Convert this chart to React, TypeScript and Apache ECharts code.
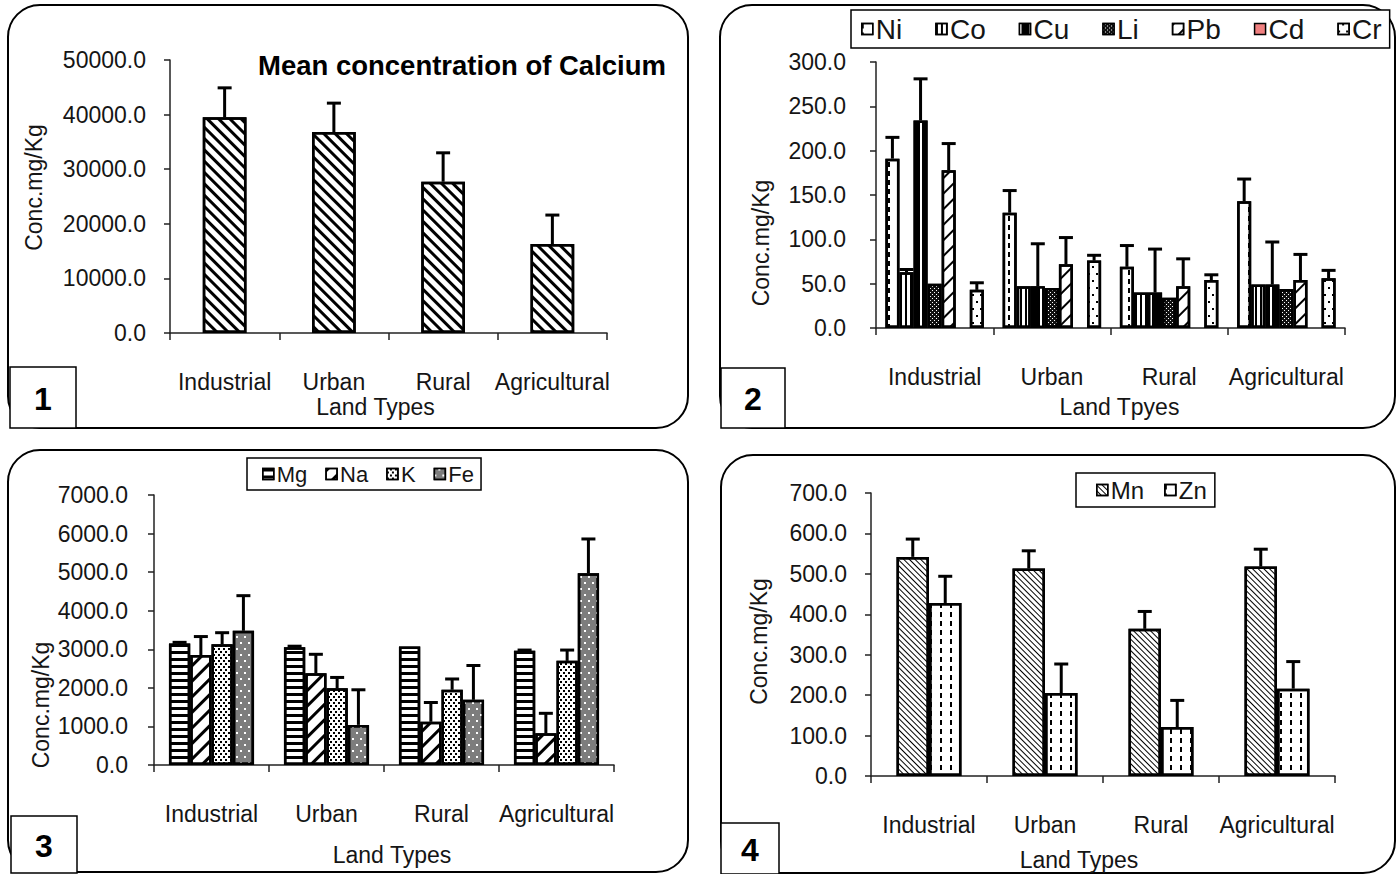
import React, { useEffect, useRef } from 'react';
import * as echarts from 'echarts';

const landTypes = ['Industrial', 'Urban', 'Rural', 'Agricultural'];

// Panel 1: Calcium (mean and mean + error)
const caMean = [39500, 36800, 27700, 16300];
const caUpper = [44900, 42100, 33000, 21600];

// Panel 2: trace metals
const traceNames = ['Ni', 'Co', 'Cu', 'Li', 'Pb', 'Cd', 'Cr'];
const niMean = [191, 130, 69, 143];
const niUpper = [215, 155, 93, 168];
const coMean = [63, 47, 40, 49];
const coUpper = [66, 47, 40, 49];
const cuMean = [234, 47, 40, 49];
const cuUpper = [281, 95, 89, 97];
const liMean = [50, 45, 34, 44];
const liUpper = [50, 45, 34, 44];
const pbMean = [178, 72, 47, 54];
const pbUpper = [208, 102, 78, 83];
const cdMean: (number | null)[] = [null, null, null, null];
const cdUpper: (number | null)[] = [null, null, null, null];
const crMean = [43, 76, 54, 56];
const crUpper = [51, 82, 60, 65];

// Panel 3: major elements
const majorNames = ['Mg', 'Na', 'K', 'Fe'];
const mgMean = [3150, 3050, 3070, 2960];
const mgUpper = [3180, 3080, 3070, 2980];
const naMean = [2850, 2380, 1120, 820];
const naUpper = [3330, 2870, 1620, 1340];
const kMean = [3130, 1990, 1950, 2700];
const kUpper = [3430, 2270, 2230, 2980];
const feMean = [3480, 1040, 1690, 4970];
const feUpper = [4390, 1950, 2580, 5860];

// Panel 4: Mn, Zn
const mnZnNames = ['Mn', 'Zn'];
const mnMean = [542, 513, 364, 518];
const mnUpper = [586, 557, 407, 561];
const znMean = [428, 205, 121, 216];
const znUpper = [494, 277, 187, 283];

const FONT = "'Liberation Sans', Arial, sans-serif";
const TXT = '#151515';
const PI4 = Math.PI / 4;

const deco = (o: any) => ({ symbol: 'rect', symbolSize: 1, color: '#000', ...o });

function barSeries(name: string, grid: number, data: (number | null)[], gap: string, color: string, decal: any) {
  return {
    type: 'bar',
    name,
    xAxisIndex: grid,
    yAxisIndex: grid,
    data,
    barGap: '0%',
    barCategoryGap: gap,
    itemStyle: { color, borderColor: '#000', borderWidth: 2.5, decal },
  };
}

function errSeries(grid: number, gap: number, means: (number | null)[][], uppers: (number | null)[][]) {
  const n = means.length;
  const data: number[][] = [];
  means.forEach((m, s) =>
    m.forEach((v, c) => {
      const u = uppers[s][c];
      if (v != null && u != null && u > v) data.push([c, s, v, u]);
    })
  );
  return {
    type: 'custom',
    xAxisIndex: grid,
    yAxisIndex: grid,
    z: 5,
    silent: true,
    encode: { x: 0, y: [2, 3] },
    data,
    renderItem: (params: any, api: any) => {
      const c = api.value(0);
      const s = api.value(1);
      const p0 = api.coord([c, api.value(2)]);
      const p1 = api.coord([c, api.value(3)]);
      const band = api.size([1, 0])[0];
      const gw = band * (1 - gap);
      const bw = gw / n;
      const x = p0[0] - gw / 2 + (s + 0.5) * bw;
      return {
        type: 'group',
        children: [
          { type: 'line', shape: { x1: x, y1: p0[1], x2: x, y2: p1[1] }, style: { stroke: '#000', lineWidth: 3 } },
          { type: 'line', shape: { x1: x - 7, y1: p1[1], x2: x + 7, y2: p1[1] }, style: { stroke: '#000', lineWidth: 3 } },
        ],
      };
    },
  };
}

function xAxis(grid: number, name: string, nameGap: number, namePad: number[]) {
  return {
    type: 'category',
    gridIndex: grid,
    data: landTypes,
    axisLine: { show: true, lineStyle: { color: '#222', width: 1.5 } },
    axisTick: { show: true, length: 7, interval: 0, lineStyle: { color: '#222', width: 1.5 } },
    axisLabel: { margin: 37, fontSize: 23, color: TXT, fontFamily: FONT, interval: 0 },
    name,
    nameLocation: 'middle',
    nameGap,
    nameTextStyle: { fontSize: 23, color: TXT, fontFamily: FONT, padding: namePad },
  };
}

function yAxis(grid: number, max: number, interval: number, margin: number, nameGap: number, namePad: number[]) {
  return {
    type: 'value',
    gridIndex: grid,
    min: 0,
    max,
    interval,
    axisLine: { show: true, lineStyle: { color: '#222', width: 1.5 } },
    axisTick: { show: true, length: 6, lineStyle: { color: '#222', width: 1.5 } },
    splitLine: { show: false },
    axisLabel: { margin, fontSize: 23, color: TXT, fontFamily: FONT, formatter: (v: number) => v.toFixed(1) },
    name: 'Conc.mg/Kg',
    nameLocation: 'middle',
    nameGap,
    nameTextStyle: { fontSize: 23, color: TXT, fontFamily: FONT, padding: namePad },
  };
}

function legend(data: string[], left: number, top: number, fontSize: number, itemGap: number, padding: number[]) {
  return {
    data,
    left,
    top,
    orient: 'horizontal',
    icon: 'rect',
    itemWidth: 11,
    itemHeight: 11,
    itemGap,
    padding,
    selectedMode: false,
    borderColor: '#000',
    borderWidth: 1.5,
    backgroundColor: '#fff',
    itemStyle: { borderColor: '#000', borderWidth: 1.5 },
    textStyle: { fontSize, color: TXT, fontFamily: FONT, padding: [0, 0, 0, -2] },
  };
}

function panelFrame(x: number, y: number, w: number, h: number) {
  return { type: 'rect', shape: { x, y, width: w, height: h, r: 32 }, style: { fill: 'none', stroke: '#000', lineWidth: 2 }, z: 0 };
}

function numBox(label: string, x: number, y: number, w: number, h: number) {
  return [
    { type: 'rect', shape: { x, y, width: w, height: h }, style: { fill: '#fff', stroke: '#000', lineWidth: 1.5 }, z: 10 },
    {
      type: 'text',
      x: x + w / 2,
      y: y + h / 2 + 1,
      z: 11,
      style: { text: label, fontSize: 32, fontWeight: 'bold', fontFamily: FONT, fill: '#000', align: 'center', verticalAlign: 'middle' },
    },
  ];
}

export default function App() {
  const ref = useRef<HTMLDivElement>(null);
  useEffect(() => {
    if (!ref.current) return;
    const chart = echarts.init(ref.current, null, { renderer: 'svg' });

    const gap1 = 0.6, gap2 = 0.16, gap3 = 0.26, gap4 = 0.44;

    const option: any = {
      animation: false,
      backgroundColor: '#fff',
      textStyle: { fontFamily: FONT },
      title: {
        text: 'Mean concentration of Calcium',
        left: 258,
        top: 51,
        padding: 0,
        textStyle: { fontSize: 27.5, fontWeight: 'bold', color: '#000', fontFamily: FONT },
      },
      legend: [
        legend(traceNames, 851, 10, 28, 33, [5, 8, 5, 10]),
        legend(majorNames, 247, 458, 22, 18, [5, 7, 5, 15]),
        legend(mnZnNames, 1076, 473, 24, 20, [5, 8, 5, 20]),
      ],
      grid: [
        { left: 170, top: 60, width: 437, height: 273 },
        { left: 876, top: 62, width: 469, height: 266 },
        { left: 154, top: 495, width: 460, height: 270 },
        { left: 871, top: 493, width: 464, height: 283 },
      ],
      xAxis: [
        xAxis(0, 'Land Types', 62, [0, 26, 0, 0]),
        xAxis(1, 'Land Tpyes', 67, [0, 0, 0, 18]),
        xAxis(2, 'Land Types', 78, [0, 0, 0, 16]),
        xAxis(3, 'Land Types', 72, [0, 48, 0, 0]),
      ],
      yAxis: [
        yAxis(0, 50000, 10000, 24, 125, [0, 0, 0, 18]),
        yAxis(1, 300, 50, 30, 104, [0, 96, 0, 0]),
        yAxis(2, 7000, 1000, 26, 102, [0, 150, 0, 0]),
        yAxis(3, 700, 100, 24, 101, [0, 14, 0, 0]),
      ],
      series: [
        barSeries('Ca', 0, caMean, '60%', '#fff', deco({ dashArrayX: [1, 0], dashArrayY: [3, 5], rotation: PI4 })),
        errSeries(0, gap1, [caMean], [caUpper]),

        barSeries('Ni', 1, niMean, '16%', '#fff', deco({ dashArrayX: [2, 10], dashArrayY: [5, 4] })),
        barSeries('Co', 1, coMean, '16%', '#fff', deco({ dashArrayX: [2, 3], dashArrayY: [1, 0] })),
        barSeries('Cu', 1, cuMean, '16%', '#000', deco({ color: '#fff', dashArrayX: [2, 8], dashArrayY: [1, 0] })),
        barSeries('Li', 1, liMean, '16%', '#111', deco({ color: '#fff', dashArrayX: [[1, 3], [0, 2, 1, 1]], dashArrayY: [1, 1] })),
        barSeries('Pb', 1, pbMean, '16%', '#fff', deco({ dashArrayX: [1, 0], dashArrayY: [2, 9], rotation: -PI4 })),
        barSeries('Cd', 1, cdMean, '16%', '#f08080', null),
        barSeries('Cr', 1, crMean, '16%', '#fff', deco({ dashArrayX: [[2, 6], [0, 4, 2, 2]], dashArrayY: [2, 5] })),
        errSeries(1, gap2, [niMean, coMean, cuMean, liMean, pbMean, cdMean, crMean], [niUpper, coUpper, cuUpper, liUpper, pbUpper, cdUpper, crUpper]),

        barSeries('Mg', 2, mgMean, '26%', '#fff', deco({ dashArrayX: [1, 0], dashArrayY: [3, 4] })),
        barSeries('Na', 2, naMean, '26%', '#fff', deco({ dashArrayX: [1, 0], dashArrayY: [3, 8], rotation: -PI4 })),
        barSeries('K', 2, kMean, '26%', '#fff', deco({ dashArrayX: [[2, 3], [0, 3, 2, 0]], dashArrayY: [2, 1] })),
        barSeries('Fe', 2, feMean, '26%', '#7d7d7d', deco({ color: '#fff', dashArrayX: [[2, 6], [0, 4, 2, 2]], dashArrayY: [2, 4] })),
        errSeries(2, gap3, [mgMean, naMean, kMean, feMean], [mgUpper, naUpper, kUpper, feUpper]),

        barSeries('Mn', 3, mnMean, '44%', '#fff', deco({ dashArrayX: [1, 0], dashArrayY: [1, 3], rotation: PI4 })),
        barSeries('Zn', 3, znMean, '44%', '#fff', deco({ dashArrayX: [2, 8], dashArrayY: [5, 4] })),
        errSeries(3, gap4, [mnMean, znMean], [mnUpper, znUpper]),
      ],
      graphic: [
        panelFrame(8, 5, 680, 423),
        panelFrame(720, 5, 675, 423),
        panelFrame(8, 450, 680, 422),
        panelFrame(721, 455, 674, 418),
        ...numBox('1', 10, 367, 66, 61),
        ...numBox('2', 721, 368, 64, 60),
        ...numBox('3', 11, 816, 66, 57),
        ...numBox('4', 721, 823, 58, 51),
      ],
    };

    chart.setOption(option);
    return () => chart.dispose();
  }, []);

  return <div ref={ref} style={{ position: 'absolute', left: 0, top: 0, width: 1397, height: 874 }} />;
}
